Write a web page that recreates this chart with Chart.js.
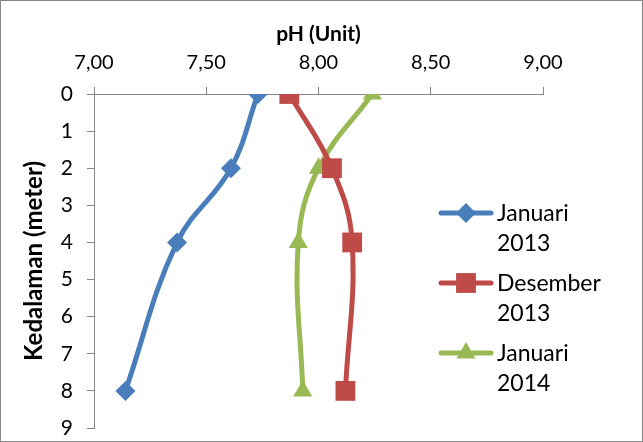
<!DOCTYPE html>
<html>
<head>
<meta charset="utf-8">
<script src="https://cdn.jsdelivr.net/npm/chart.js@4"></script>
<style>
  html, body { margin: 0; padding: 0; background: #fff; }
  canvas { display: block; }
</style>
</head>
<body>
<canvas id="chart" width="643" height="442"></canvas>
<script>
// depths (meter) and pH per sampling period
const depths = [0, 2, 4, 8];
const januari2013 = [7.73, 7.61, 7.37, 7.14];
const desember2013 = [7.87, 8.06, 8.15, 8.12];
const januari2014 = [8.24, 8.00, 7.91, 7.93];
const seriesNames = [['Januari', '2013'], ['Desember', '2013'], ['Januari', '2014']];
const xTicks = [7.0, 7.5, 8.0, 8.5, 9.0];

const font = 'Lato, "Open Sans", sans-serif';
const axisColor = '#868686';

function toPoints(values) {
  return values.map((v, i) => ({ x: v, y: depths[i] }));
}

function makeSet(label, values, color, style, radius) {
  return {
    label: label,
    data: toPoints(values),
    showLine: true,
    borderColor: color,
    backgroundColor: color,
    borderWidth: 5,
    tension: 0.4,
    pointStyle: style,
    pointRadius: radius,
    pointHoverRadius: radius,
    pointBorderWidth: 0
  };
}

const datasets = [
  makeSet(seriesNames[0], januari2013, '#4A7EBB', 'rectRot', 10),
  makeSet(seriesNames[1], desember2013, '#BE4B48', 'rect', 14),
  makeSet(seriesNames[2], januari2014, '#98B954', 'triangle', 11)
];

// outer frame + legend on the right with two-line labels
const sideLegend = {
  id: 'sideLegend',
  afterDraw(chart) {
    const ctx = chart.ctx;
    ctx.save();
    ctx.strokeStyle = axisColor;
    ctx.lineWidth = 1;
    ctx.strokeRect(0.5, 0.5, chart.width - 1, chart.height - 1);
    ctx.restore();
    const rows = [213, 283, 353];
    chart.data.datasets.forEach((ds, i) => {
      const y = rows[i];
      ctx.save();
      ctx.strokeStyle = ds.borderColor;
      ctx.lineWidth = 5;
      ctx.lineCap = 'round';
      ctx.beginPath();
      ctx.moveTo(441, y);
      ctx.lineTo(491, y);
      ctx.stroke();
      ctx.fillStyle = ds.backgroundColor;
      Chart.helpers.drawPoint(ctx, { pointStyle: ds.pointStyle, radius: ds.pointRadius, rotation: 0, borderWidth: 0 }, 466, y);
      ctx.fillStyle = '#000';
      ctx.font = '23px ' + font;
      ctx.textBaseline = 'middle';
      ctx.textAlign = 'left';
      ds.label.forEach((line, k) => ctx.fillText(line, 497, y + 1 + k * 30));
      ctx.restore();
    });
  }
};

new Chart(document.getElementById('chart'), {
  type: 'scatter',
  data: { datasets: datasets },
  plugins: [sideLegend],
  options: {
    responsive: false,
    animation: false,
    layout: { padding: { left: 0, right: 100, top: 0, bottom: 12 } },
    plugins: { legend: { display: false }, tooltip: { enabled: false } },
    scales: {
      x: {
        type: 'linear',
        position: 'top',
        min: 7,
        max: 9,
        afterBuildTicks: axis => { axis.ticks = xTicks.map(v => ({ value: v })); },
        afterFit: axis => { axis.height = 94; axis.paddingLeft = 0; axis.paddingRight = 0; },
        grid: { display: true, drawOnChartArea: false, color: axisColor, tickLength: 7 },
        border: { display: true, color: axisColor, width: 1 },
        ticks: {
          color: '#000',
          font: { family: font, size: 20 },
          padding: 12,
          maxRotation: 0,
          callback: v => v.toFixed(2).replace('.', ',')
        },
        title: {
          display: true,
          text: 'pH (Unit)',
          color: '#000',
          font: { family: font, size: 21, weight: 'bold' },
          padding: { top: 22, bottom: 0 }
        }
      },
      y: {
        type: 'linear',
        reverse: true,
        min: 0,
        max: 9,
        afterFit: axis => { axis.width = 94; axis.paddingTop = 0; axis.paddingBottom = 0; },
        grid: { display: true, drawOnChartArea: false, color: axisColor, tickLength: 7 },
        border: { display: true, color: axisColor, width: 1 },
        ticks: {
          stepSize: 1,
          color: '#000',
          font: { family: font, size: 21 },
          padding: 14
        },
        title: {
          display: true,
          text: 'Kedalaman (meter)',
          color: '#000',
          font: { family: font, size: 24, weight: 'bold' },
          padding: { top: 20, bottom: 0 }
        }
      }
    }
  }
});
</script>
</body>
</html>
